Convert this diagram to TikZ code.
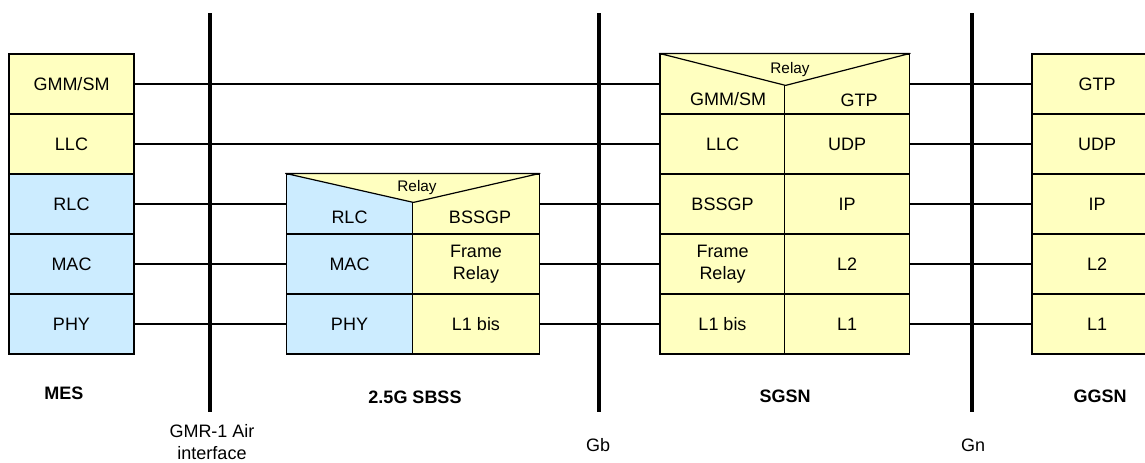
\documentclass[tikz,border=0pt]{standalone}
\usepackage{fontspec}
\setmainfont{Liberation Sans}
\usetikzlibrary{calc}

\definecolor{layerYellow}{RGB}{255,255,192}
\definecolor{layerBlue}{RGB}{204,236,255}

\begin{document}
\begin{tikzpicture}[x = 0.75pt, y = -0.75pt,
		cell/.style = {draw, line width = 0.9pt, minimum width = #1, minimum height = 45pt, inner sep = 0pt, align = center, font = \fontsize{13.5}{16}\selectfont},
		txt/.style = {inner sep = 0pt, align = center, font = \fontsize{13.5}{16}\selectfont},
		ttl/.style = {inner sep = 0pt, font = \fontsize{13.5}{16}\selectfont\bfseries},
		iface/.style = {line width = 3pt},
		link/.style = {line width = 0.9pt},
		relay/.style = {fill = layerYellow, line width = 0.9pt, line join = round}]
			\def\wA{93.75pt};
			\def\wB{95pt};
			\def\wC{97.5pt};

			\clip (0,0) rectangle (1145,462);

			% interfaces
			\begin{scope}[iface]
				\coordinate (airTop) at (210,13);
				\coordinate (airBot) at (210,412);
				\coordinate (gbTop) at (599,13);
				\coordinate (gbBot) at (599,412);
				\coordinate (gnTop) at (972,13);
				\coordinate (gnBot) at (972,412);
				\draw (airTop) -- (airBot);
				\draw (gbTop) -- (gbBot);
				\draw (gnTop) -- (gnBot);
			\end{scope}

			% MES
			\node [cell = \wA, fill = layerYellow] (mes1) at (71.5,84) {GMM/SM};
			\node [cell = \wA, fill = layerYellow] (mes2) at (71.5,144) {LLC};
			\node [cell = \wA, fill = layerBlue] (mes3) at (71.5,204) {RLC};
			\node [cell = \wA, fill = layerBlue] (mes4) at (71.5,264) {MAC};
			\node [cell = \wA, fill = layerBlue] (mes5) at (71.5,324) {PHY};

			% 2.5G SBSS
			\node [cell = \wB, fill = layerBlue] (sbssL1) at (349.5,204) {};
			\node [cell = \wB, fill = layerBlue] (sbssL2) at (349.5,264) {MAC};
			\node [cell = \wB, fill = layerBlue] (sbssL3) at (349.5,324) {PHY};
			\node [cell = \wB, fill = layerYellow] (sbssR1) at (476,204) {};
			\node [cell = \wB, fill = layerYellow] (sbssR2) at (476,264) {Frame\\Relay};
			\node [cell = \wB, fill = layerYellow] (sbssR3) at (476,324) {L1 bis};
			\draw [relay] (sbssL1.north west) -- ($(sbssL1.north east)+(0,29)$) -- (sbssR1.north east) -- cycle;
			\node [txt, font = \fontsize{11.5}{13}\selectfont] (sbssRelay) at (417,188) {Relay};
			\node [txt] (sbssRLC) at (349.5,217) {RLC};
			\node [txt] (sbssBSSGP) at (480,217) {BSSGP};

			% SGSN
			\node [cell = \wA, fill = layerYellow] (sgsnL1) at (722.5,84) {};
			\node [cell = \wA, fill = layerYellow] (sgsnL2) at (722.5,144) {LLC};
			\node [cell = \wA, fill = layerYellow] (sgsnL3) at (722.5,204) {BSSGP};
			\node [cell = \wA, fill = layerYellow] (sgsnL4) at (722.5,264) {Frame\\Relay};
			\node [cell = \wA, fill = layerYellow] (sgsnL5) at (722.5,324) {L1 bis};
			\node [cell = \wA, fill = layerYellow] (sgsnR1) at (847,84) {};
			\node [cell = \wA, fill = layerYellow] (sgsnR2) at (847,144) {UDP};
			\node [cell = \wA, fill = layerYellow] (sgsnR3) at (847,204) {IP};
			\node [cell = \wA, fill = layerYellow] (sgsnR4) at (847,264) {L2};
			\node [cell = \wA, fill = layerYellow] (sgsnR5) at (847,324) {L1};
			\draw [relay] (sgsnL1.north west) -- ($(sgsnL1.north east)+(0,32)$) -- (sgsnR1.north east) -- cycle;
			\node [txt, font = \fontsize{11.5}{13}\selectfont] (sgsnRelay) at (790,70) {Relay};
			\node [txt] (sgsnGMM) at (728,99) {GMM/SM};
			\node [txt] (sgsnGTP) at (859,100) {GTP};

			% GGSN
			\node [cell = \wC, fill = layerYellow] (ggsn1) at (1097,84) {GTP};
			\node [cell = \wC, fill = layerYellow] (ggsn2) at (1097,144) {UDP};
			\node [cell = \wC, fill = layerYellow] (ggsn3) at (1097,204) {IP};
			\node [cell = \wC, fill = layerYellow] (ggsn4) at (1097,264) {L2};
			\node [cell = \wC, fill = layerYellow] (ggsn5) at (1097,324) {L1};

			% peer links
			\begin{scope}[link]
				\draw (mes1) -- (sgsnL1);
				\draw (mes2) -- (sgsnL2);
				\draw (mes3) -- (sbssL1);
				\draw (mes4) -- (sbssL2);
				\draw (mes5) -- (sbssL3);
				\draw (sbssR1) -- (sgsnL3);
				\draw (sbssR2) -- (sgsnL4);
				\draw (sbssR3) -- (sgsnL5);
				\foreach \i in {1,...,5}
					\draw (sgsnR\i) -- (ggsn\i);
			\end{scope}

			% entity and interface names
			\node [ttl] (mesName) at (64,393) {MES};
			\node [ttl] (sbssName) at (415,397) {2.5G SBSS};
			\node [ttl] (sgsnName) at (785,396) {SGSN};
			\node [ttl] (ggsnName) at (1100,396) {GGSN};
			\node [txt] (airName) at (212,442) {GMR-1 Air\\interface};
			\node [txt] (gbName) at (598,445) {Gb};
			\node [txt] (gnName) at (973,445) {Gn};
		\end{tikzpicture}
\end{document}
